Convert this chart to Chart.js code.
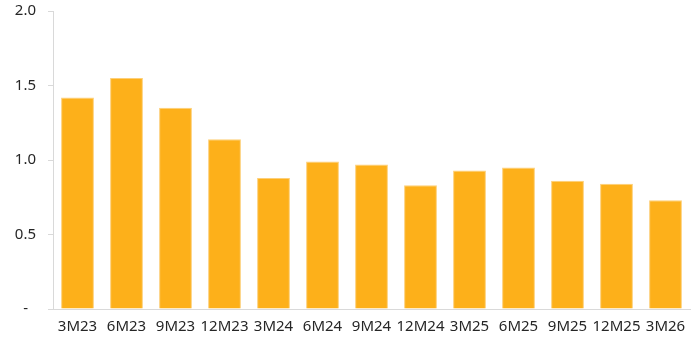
<!DOCTYPE html>
<html>
<head>
<meta charset="utf-8">
<script src="https://cdn.jsdelivr.net/npm/chart.js@4.4.1/dist/chart.umd.min.js"></script>
<style>
  html, body { margin: 0; padding: 0; background: #ffffff; }
  #wrap { width: 698px; height: 343px; }
</style>
</head>
<body>
<div id="wrap"><canvas id="chart" width="698" height="343"></canvas></div>
<script>
// Quarter-end periods
const categories = ['3M23', '6M23', '9M23', '12M23', '3M24', '6M24', '9M24', '12M24', '3M25', '6M25', '9M25', '12M25', '3M26'];
// Values per period
const values = [1.42, 1.55, 1.35, 1.14, 0.88, 0.99, 0.97, 0.83, 0.93, 0.95, 0.86, 0.84, 0.73];
// Y-axis ticks (zero shown as an accounting dash)
const yTicks = [0, 0.5, 1.0, 1.5, 2.0];
const yTickLabels = ['-  ', '0.5', '1.0', '1.5', '2.0'];

const FONT = { family: "'Noto Sans', sans-serif", size: 15 };
const TEXT = '#262626';
const AXIS = '#d9d9d9';

new Chart(document.getElementById('chart'), {
  type: 'bar',
  data: {
    labels: categories,
    datasets: [{
      data: values,
      backgroundColor: '#fdb01a',
      borderColor: '#fdcf78',
      borderWidth: 1,
      categoryPercentage: 0.67,
      barPercentage: 1.0
    }]
  },
  options: {
    responsive: false,
    animation: false,
    layout: { padding: { top: 11, right: 8, bottom: -2, left: 0 } },
    plugins: { legend: { display: false }, tooltip: { enabled: false } },
    scales: {
      x: {
        grid: { display: true, drawOnChartArea: false, drawTicks: false, color: AXIS },
        border: { display: true, color: AXIS, width: 1 },
        ticks: { color: TEXT, font: FONT, padding: 9, maxRotation: 0, autoSkip: false }
      },
      y: {
        min: 0,
        max: 2.0,
        afterBuildTicks: (scale) => { scale.ticks = yTicks.map(v => ({ value: v })); },
        afterFit: (scale) => { scale.width = 53; scale.paddingTop = 0; },
        grid: { display: true, drawOnChartArea: false, drawTicks: true, tickLength: 5, color: AXIS },
        border: { display: true, color: AXIS, width: 1 },
        ticks: {
          color: TEXT,
          font: FONT,
          padding: 12,
          callback: (v) => {
            const i = yTicks.findIndex(t => Math.abs(t - v) < 1e-9);
            return i >= 0 ? yTickLabels[i] : '';
          }
        }
      }
    }
  }
});
</script>
</body>
</html>
